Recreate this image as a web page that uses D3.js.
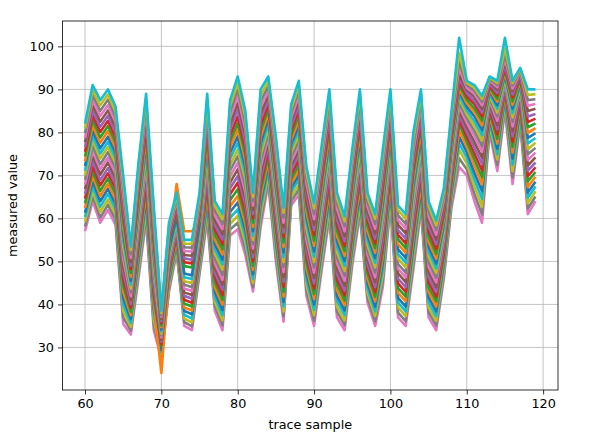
<!DOCTYPE html>
<html><head><meta charset="utf-8">
<script src="https://cdn.jsdelivr.net/npm/d3@7"></script>
<style>html,body{margin:0;padding:0;background:#fff;} svg{display:block;}</style>
</head><body>
<svg id="chart" width="589" height="441"></svg>
<script>
const traceSample = [60,61,62,63,64,65,66,67,68,69,70,71,72,73,74,75,76,77,78,79,80,81,82,83,84,85,86,87,88,89,90,91,92,93,94,95,96,97,98,99,100,101,102,103,104,105,106,107,108,109,110,111,112,113,114,115,116,117,118,119];

const trace00 = [57,64,59,62,58.5,35.5,33,46,59.5,34,27.5,43,52,35,34,47,59.5,38.5,34,56,57.5,51.5,43,58,68,50,36,63,65.5,42,35,48,60,37,34,49,61,40.5,35,44,63,37,35,48,62,37,34,46,62.5,72,70,64,59,80,71,85,68,82,61,64];
const trace01 = [58.1,65.2,60.2,63.2,59.7,37,33.9,47.2,60.8,35.3,28,43.7,52.6,35.9,34.9,47.8,60.8,39.6,35.2,57.4,59,53,44,59.4,69.1,51.3,37.2,64,66.7,43.3,36.2,49.3,61.3,38.3,35.2,50.2,62.3,41.6,36.1,45.4,64.2,38.1,36.1,49.4,63.2,38.2,35.1,46.9,63.5,74,71.4,65.7,60.9,80.8,72.4,86,69.5,82.8,62.3,65.1];
const trace02 = [59.2,66.3,61.5,64.4,60.9,38.5,34.8,48.3,62.1,36.5,28.5,44.4,53.2,36.7,35.8,48.7,62.1,40.7,36.3,58.7,60.6,54.4,45,60.8,70.2,52.5,38.3,65,67.8,44.6,37.5,50.5,62.6,39.5,36.3,51.3,63.5,42.7,37.3,46.8,65.3,39.3,37.3,50.8,64.4,39.3,36.2,47.8,64.5,76,72.8,67.4,62.7,81.7,73.7,86.8,71,83.7,63.5,66.3];
const trace03 = [60.3,67.5,62.7,65.7,62.1,40,35.7,49.5,63.3,37.8,28.9,45.1,53.8,37.6,36.7,49.5,63.3,41.8,37.5,60.1,62.1,55.9,46,62.2,71.3,53.8,39.5,66.1,69,45.9,38.7,51.8,63.9,40.8,37.5,52.5,64.8,43.8,38.4,48.2,66.5,40.4,38.4,52.2,65.7,40.5,37.3,48.7,65.4,77.5,74.1,69.1,64.5,82.4,74.9,87.5,72.5,84.4,64.8,67.4];
const trace04 = [61.3,68.7,64,66.9,63.3,41.5,36.6,50.7,64.6,39,29.4,45.8,54.4,38.5,37.7,50.3,64.6,42.9,38.7,61.5,63.7,57.3,47,63.6,72.3,55,40.6,67.1,70.1,47.2,40,53,65.2,42,38.6,53.7,66,44.9,39.5,49.6,67.7,41.5,39.5,53.6,66.9,41.7,38.4,49.7,66.4,79,75.4,70.6,66.3,83.2,76.2,88.2,73.9,85.2,66,68.5];
const trace05 = [62.4,69.9,65.2,68.1,64.5,43,37.5,51.9,65.9,40.3,24,46.5,55,39.3,38.6,51.1,65.9,44,39.9,62.8,65.2,58.8,48,65,73.4,56.3,41.8,68.1,71.3,48.5,41.2,54.3,66.5,43.3,39.8,54.9,67.3,46,40.7,51,68.9,42.7,40.7,55,68.1,42.9,39.5,50.6,67.4,80.5,76.7,72.2,67.9,83.9,77.4,88.8,75.3,85.9,67.3,69.7];
const trace06 = [63.5,71,66.4,69.3,65.7,44.5,38.3,53,67.2,41.6,30.4,47.2,55.7,40.2,39.5,52,67.2,45.2,41,64.2,66.8,60.2,49,66.3,74.5,57.6,42.9,69.1,72.4,49.8,42.4,55.6,67.8,44.6,40.9,56,68.6,47.2,41.8,52.3,70,43.8,41.8,56.3,69.3,44,40.7,51.5,68.4,82,77.9,73.7,69.5,84.6,78.5,89.4,76.6,86.6,68.6,70.8];
const trace07 = [64.6,72.2,67.7,70.5,66.9,46,39.2,54.2,68.5,42.8,30.8,47.9,56.3,41.1,40.4,52.8,68.5,46.3,42.2,65.6,68.3,61.7,50,67.7,75.6,58.8,44.1,70.2,73.6,51.1,43.7,56.8,69.1,45.8,42.1,57.2,69.8,48.3,42.9,53.7,71.2,44.9,42.9,57.7,70.5,45.2,41.8,52.4,69.3,83,79,75.1,71.1,85.3,79.6,90,77.8,87.3,69.8,71.9];
const trace08 = [65.7,73.4,68.9,71.7,68.1,47.5,40.1,55.4,69.8,44.1,31.3,48.6,56.9,42,41.3,53.6,69.8,47.4,43.4,67,69.8,63.2,51,69.1,76.7,60.1,45.2,71.2,74.7,52.4,44.9,58.1,70.4,47.1,43.2,58.4,71.1,49.4,44,55.1,72.4,46,44,59.1,71.7,46.4,42.9,53.3,70.3,84,80.1,76.5,72.6,86,80.7,90.5,79.1,88,71.1,73];
const trace09 = [66.8,74.6,70.2,73,69.3,49,41,56.6,71,45.3,31.8,49.3,57.5,42.8,42.2,54.4,71,48.5,44.6,68.3,71.4,64.6,52,70.5,77.8,61.3,46.4,72.2,75.9,53.7,46.2,59.3,71.7,48.3,44.4,59.6,72.3,50.5,45.2,56.5,73.6,47.2,45.2,60.5,73,47.6,44,54.2,71.3,85,81.2,77.8,74.1,86.6,81.7,91,80.3,88.6,72.3,74.2];
const trace10 = [67.9,75.7,71.4,74.2,70.5,50.5,41.9,57.7,72.3,46.6,32.3,50,58.1,43.7,43.1,55.3,72.3,49.6,45.7,69.7,72.9,66.1,53,71.9,78.9,62.6,47.5,73.2,77,55,47.4,60.6,73,49.6,45.5,60.7,73.6,51.6,46.3,57.9,74.7,48.3,46.3,61.9,74.2,48.7,45.1,55.1,72.3,86,82.3,79.1,75.5,87.3,82.7,91.5,81.4,89.3,73.6,75.3];
const trace11 = [69,76.9,72.6,75.4,71.7,52,42.8,58.9,73.6,47.9,32.8,50.7,58.7,44.6,44,56.1,73.6,50.7,46.9,71.1,74.5,67.5,54,73.3,80,63.9,48.7,74.2,78.2,56.3,48.6,61.9,74.3,50.9,46.7,61.9,74.9,52.7,47.4,59.3,75.9,49.4,47.4,63.3,75.4,49.9,46.2,56,73.3,87,83.3,80.3,76.8,87.8,83.7,92,82.5,89.8,74.9,76.4];
const trace12 = [70,78.1,73.9,76.6,72.9,53.5,43.7,60.1,74.9,49.1,33.2,51.3,59.3,45.4,45,56.9,74.9,51.8,48.1,72.4,76,69,55,74.7,81,65.1,49.8,75.3,79.3,57.7,49.9,63.1,75.7,52.1,47.8,63.1,76.1,53.8,48.6,60.7,77.1,50.6,48.6,64.7,76.6,51.1,47.3,57,74.2,88,84.2,81.5,78.1,88.4,84.6,92.5,83.5,90.4,76.1,77.6];
const trace13 = [71.1,79.3,75.1,77.8,74,55,44.6,61.3,76.2,50.4,33.7,52,59.9,46.3,45.9,57.7,76.2,52.9,49.3,73.8,77.6,70.4,56,76.1,82.1,66.4,51,76.3,80.5,59,51.1,64.4,77,53.4,49,64.3,77.4,54.9,49.7,62.1,78.3,51.7,49.7,66.1,77.8,52.3,48.4,57.9,75.2,88.8,85.1,82.6,79.3,89,85.5,93,84.5,91,77.4,78.7];
const trace14 = [72.2,80.4,76.3,79,75.2,56.5,45.5,62.4,77.5,51.7,34.2,52.7,60.5,47.2,46.8,58.6,77.5,54,50.4,75.2,79.1,71.9,57,77.5,83.2,67.7,52.1,77.3,81.6,60.3,52.3,65.7,78.3,54.7,50.1,65.4,78.7,56,50.8,63.5,79.4,52.8,50.8,67.5,79,53.4,49.5,58.8,76.2,89.5,86,83.7,80.5,89.5,86.3,93.5,85.5,91.5,78.7,79.8];
const trace15 = [73.3,81.6,77.6,80.3,76.4,58,46.4,63.6,78.7,52.9,34.7,53.4,68,57,57,59.4,78.7,55.1,51.6,76.5,80.7,73.4,58,78.9,84.3,68.9,53.3,78.3,82.8,61.6,53.6,66.9,79.6,55.9,51.3,66.6,79.9,57.1,52,64.9,80.6,54,52,68.9,80.3,54.6,50.6,59.7,77.2,90.2,86.8,84.7,81.6,90,87.1,94,86.4,92,79.9,81];
const trace16 = [74.4,82.8,78.8,81.5,77.6,59.5,47.3,64.8,80,54.2,35.1,54.1,61.7,48.9,48.6,60.2,80,56.2,52.8,77.9,82.2,74.8,59,80.3,85.4,70.2,54.4,79.3,83.9,62.9,54.8,68.2,80.9,57.2,52.4,67.8,81.2,58.2,53.1,66.3,81.8,55.1,53.1,70.3,81.5,55.8,51.7,60.6,78.2,91,87.6,85.6,82.7,90.4,87.8,94.5,87.2,92.4,81.2,82.1];
const trace17 = [75.5,84,80.1,82.7,78.8,61,48.2,66,81.3,55.4,35.6,54.8,62.3,49.8,49.5,61,81.3,57.4,54,79.3,83.7,76.3,60,81.7,86.5,71.4,55.6,80.4,85.1,64.2,56.1,69.4,82.2,58.4,53.6,69,82.4,59.4,54.2,67.7,83,56.2,54.2,71.7,82.7,57,52.9,61.5,79.1,91.8,88.4,86.6,83.7,90.9,88.6,95,88.1,92.9,82.4,83.2];
const trace18 = [76.6,85.1,81.3,83.9,80,62.5,49,67.1,82.6,56.7,36.1,55.5,63,50.7,50.4,61.9,82.6,58.5,55.1,80.7,85.3,77.7,61,83,87.6,72.7,56.7,81.4,86.2,65.5,57.3,70.7,83.5,59.7,54.7,70.1,83.7,60.5,55.3,69,84.1,57.3,55.3,73,83.9,58.1,54,62.4,80.1,92.6,89.1,87.4,84.6,91.3,89.2,95.6,88.8,93.3,83.7,84.3];
const trace19 = [77.7,86.3,82.5,85.1,81.2,64,49.9,68.3,83.9,58,36.6,56.2,63.6,51.5,51.3,62.7,83.9,59.6,56.3,82,86.8,79.2,62,84.4,88.7,74,57.9,82.4,87.4,66.8,58.5,72,84.8,61,55.9,71.3,85,61.6,56.5,70.4,85.3,58.5,56.5,74.4,85.1,59.3,55.1,63.3,81.1,93.5,89.8,88.3,85.5,91.7,89.9,96.2,89.6,93.7,85,85.5];
const trace20 = [78.7,87.5,83.8,86.3,82.4,65.5,50.8,69.5,85.2,59.2,37.1,56.9,64.2,52.4,52.3,63.5,85.2,60.7,57.5,83.4,88.4,80.6,63,85.8,89.7,75.2,59,83.4,88.5,68.1,59.8,73.2,86.1,62.2,57,72.5,86.2,62.7,57.6,71.8,86.5,59.6,57.6,75.8,86.3,60.5,56.2,64.3,82.1,95,90.4,89,86.3,92,90.5,97,90.2,94,86.2,86.6];
const trace21 = [79.8,88.7,85,87.6,83.6,67,51.7,70.7,86.4,60.5,37.5,57.6,64.8,53.3,53.2,64.3,86.4,61.8,58.7,84.8,89.9,82.1,64,87.2,90.8,76.5,60.2,84.5,89.7,69.4,61,74.5,87.4,63.5,58.2,73.7,87.5,63.8,58.7,73.2,87.7,60.7,58.7,77.2,87.6,61.7,57.3,65.2,83,96.5,91,89.7,87.1,92.4,91,98,90.9,94.4,87.5,87.7];
const trace22 = [80.9,89.8,86.3,88.8,84.8,68.5,52.6,71.8,87.7,61.7,38,58.3,65.4,54.1,54.1,65.2,87.7,62.9,59.8,86.1,91.5,83.5,65,88.6,91.9,77.7,61.3,85.5,90.8,70.7,62.3,75.7,88.7,64.7,59.3,74.8,88.7,64.9,59.9,74.6,88.8,61.9,59.9,78.6,88.8,62.8,58.4,66.1,84,98.5,91.5,90.4,87.8,92.7,91.5,99.5,91.5,94.7,88.7,88.9];
const trace23 = [82,91,87.5,90,86,70,53.5,73,89,63,38.5,59,66,55,55,66,89,64,61,87.5,93,85,66,90,93,79,62.5,86.5,92,72,63.5,77,90,66,60.5,76,90,66,61,76,90,63,61,80,90,64,59.5,67,85,102,92,91,88.5,93,92,102,92,95,90,90];

const traces = [trace00,trace01,trace02,trace03,trace04,trace05,trace06,trace07,trace08,trace09,trace10,trace11,trace12,trace13,trace14,trace15,trace16,trace17,trace18,trace19,trace20,trace21,trace22,trace23];
const palette = ["#1f77b4","#ff7f0e","#2ca02c","#d62728","#9467bd","#8c564b","#e377c2","#7f7f7f","#bcbd22","#17becf"];
const colorOffset = 6;
const xTicks = [60,70,80,90,100,110,120];
const yTicks = [30,40,50,60,70,80,90,100];
const xLabel = "trace sample";
const yLabel = "measured value";

const L = 62.5, R = 558, T = 21, B = 390;
const FONT = "'DejaVu Sans', sans-serif";
const svg = d3.select("#chart");
svg.append("rect").attr("width",589).attr("height",441).attr("fill","#fff");

const xExt = d3.extent(traceSample), xPad = (xExt[1]-xExt[0])*0.05;
const yExt = d3.extent(traces.flat()), yPad = (yExt[1]-yExt[0])*0.05;
const x = d3.scaleLinear().domain([xExt[0]-xPad, xExt[1]+xPad]).range([L, R]);
const y = d3.scaleLinear().domain([yExt[0]-yPad, yExt[1]+yPad]).range([B, T]);

// grid
const grid = svg.append("g").attr("stroke","#b0b0b0").attr("stroke-width",0.75);
grid.selectAll(".gx").data(xTicks).join("line")
  .attr("x1",d=>x(d)).attr("x2",d=>x(d)).attr("y1",T).attr("y2",B);
grid.selectAll(".gy").data(yTicks).join("line")
  .attr("y1",d=>y(d)).attr("y2",d=>y(d)).attr("x1",L).attr("x2",R);

// lines
const line = d3.line().x((d,i)=>x(traceSample[i])).y(d=>y(d));
svg.append("g").selectAll("path").data(traces).join("path")
  .attr("d", line)
  .attr("fill","none")
  .attr("stroke",(d,i)=>palette[(i+colorOffset) % palette.length])
  .attr("stroke-width",2.6)
  .attr("stroke-linejoin","round");

// axes
const xAxis = svg.append("g").attr("transform",`translate(0,${B})`)
  .call(d3.axisBottom(x).tickValues(xTicks).tickSize(4.5).tickPadding(4).tickSizeOuter(0).tickFormat(d3.format("d")));
const yAxis = svg.append("g").attr("transform",`translate(${L},0)`)
  .call(d3.axisLeft(y).tickValues(yTicks).tickSize(4.5).tickPadding(4).tickSizeOuter(0).tickFormat(d3.format("d")));
[xAxis,yAxis].forEach(a=>{
  a.select(".domain").remove();
  a.selectAll(".tick line").attr("stroke","#000").attr("stroke-width",0.8);
  a.selectAll(".tick text").attr("fill","#000").style("font-family",FONT).style("font-size","12.8px");
});

// spines
svg.append("rect").attr("x",L).attr("y",T).attr("width",R-L).attr("height",B-T)
  .attr("fill","none").attr("stroke","#000").attr("stroke-width",0.8);

// labels
svg.append("text").attr("x",(L+R)/2).attr("y",429).attr("text-anchor","middle")
  .style("font-family",FONT).style("font-size","12.8px").text(xLabel);
svg.append("text").attr("transform",`translate(16.5,${(T+B)/2}) rotate(-90)`).attr("text-anchor","middle")
  .style("font-family",FONT).style("font-size","12.8px").text(yLabel);
</script>
</body></html>
